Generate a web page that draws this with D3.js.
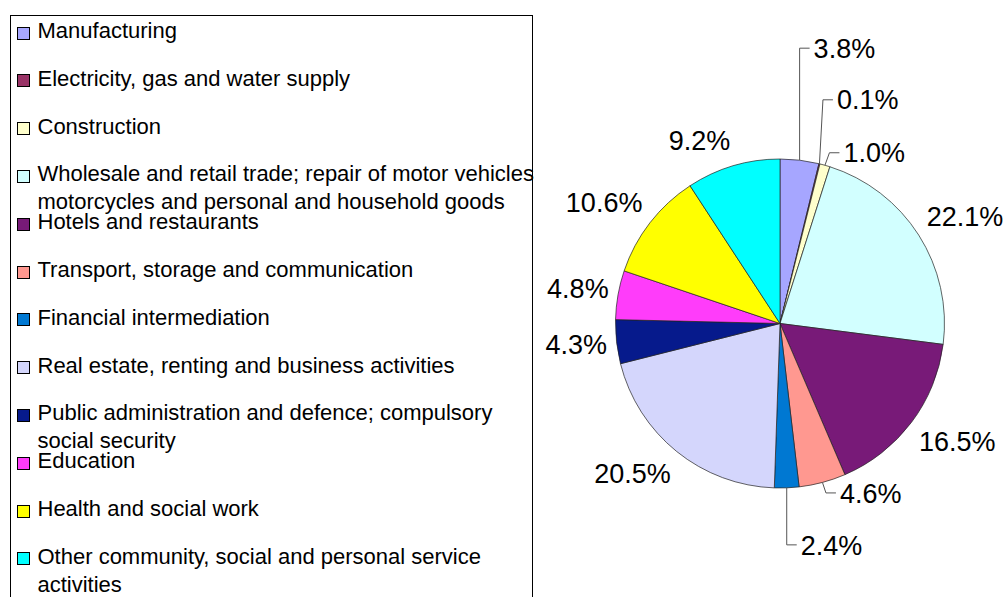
<!DOCTYPE html>
<html>
<head>
<meta charset="utf-8">
<script src="https://cdn.jsdelivr.net/npm/d3@7/dist/d3.min.js"></script>
<style>
  html, body { margin: 0; padding: 0; background: #fff; overflow: hidden; }
  svg { display: block; font-family: "Liberation Sans", Arial, sans-serif; }
</style>
</head>
<body>
<svg id="chart" width="1007" height="597"></svg>
<script>
// Sector shares of the total (%), in drawing order clockwise from 12 o'clock
const categories = [
  "Manufacturing",
  "Electricity, gas and water supply",
  "Construction",
  "Wholesale and retail trade; repair of motor vehicles motorcycles and personal and household goods",
  "Hotels and restaurants",
  "Transport, storage and communication",
  "Financial intermediation",
  "Real estate, renting and business activities",
  "Public administration and defence; compulsory social security",
  "Education",
  "Health and social work",
  "Other community, social and personal service activities"
];
const shares = [3.8, 0.1, 1.0, 22.1, 16.5, 4.6, 2.4, 20.5, 4.3, 4.8, 10.6, 9.2];
const sliceColors = [
  "#a6a6ff", "#993366", "#ffffcc", "#d2ffff", "#781a78", "#ff9890",
  "#0078d2", "#d4d6fc", "#061a8c", "#ff3cfa", "#ffff00", "#00ffff"
];

// Small slices get their label pulled out on a leader line:
// offset of the line's elbow from the slice's point on the rim
const leaderElbows = {
  "Manufacturing": [0, -112],
  "Electricity, gas and water supply": [3.5, -64],
  "Construction": [4.5, -12.5],
  "Transport, storage and communication": [3.5, 10.5],
  "Financial intermediation": [0, 57]
};

const data = categories.map((name, i) => ({ name, value: shares[i], color: sliceColors[i] }));

const svg = d3.select("#chart");
const cx = 780, cy = 323.5, radius = 164.5;

/* ---------- legend ---------- */
const legend = svg.append("g");
legend.append("rect")
  .attr("x", 10.5).attr("y", 15.5)
  .attr("width", 522).attr("height", 640)
  .attr("fill", "#fff").attr("stroke", "#000").attr("stroke-width", 1);

const legendFont = 22, legendTop = 38, legendStep = 47.8, lineStep = 28, textX = 37.5, wrapWidth = 500;

data.forEach((d, i) => {
  const base = legendTop + i * legendStep;
  legend.append("rect")
    .attr("x", 17.5).attr("y", Math.round(base - 11.5) + 0.5)
    .attr("width", 12).attr("height", 12)
    .attr("fill", d.color).attr("stroke", "#000").attr("stroke-width", 1);

  const text = legend.append("text")
    .attr("x", textX).attr("y", base)
    .attr("font-size", legendFont).attr("fill", "#000");

  // word-wrap the entry to the box width
  const words = d.name.split(" ");
  let line = [], lineNo = 0;
  let tspan = text.append("tspan").attr("x", textX).attr("y", base);
  words.forEach(w => {
    line.push(w);
    tspan.text(line.join(" "));
    if (tspan.node().getComputedTextLength() > wrapWidth && line.length > 1) {
      line.pop();
      tspan.text(line.join(" "));
      line = [w];
      lineNo++;
      tspan = text.append("tspan").attr("x", textX).attr("y", base + lineNo * lineStep).text(w);
    }
  });
});

/* ---------- pie ---------- */
const pie = d3.pie().sort(null).value(d => d.value);
const arcs = pie(data);
const arc = d3.arc().innerRadius(0).outerRadius(radius);

const g = svg.append("g").attr("transform", `translate(${cx},${cy})`);
g.selectAll("path.slice")
  .data(arcs)
  .join("path")
  .attr("class", "slice")
  .attr("d", arc)
  .attr("fill", d => d.data.color)
  .attr("stroke", "#222")
  .attr("stroke-width", 0.7)
  .attr("stroke-linejoin", "round");

/* ---------- value labels ---------- */
const fmt = d3.format(".1f");
const labelFont = 27;
const capH = labelFont * 0.716;          // cap height, for centring on leader lines
const boxH = labelFont * 1.15;           // full label box height
const baseFromCentre = labelFont * 0.33; // baseline below the box centre
const labelR = radius + 9.5;
const clamp = v => Math.max(-1, Math.min(1, v));
const labels = svg.append("g").attr("font-size", labelFont).attr("fill", "#000");

arcs.forEach(a => {
  const mid = (a.startAngle + a.endAngle) / 2;
  const s = Math.sin(mid), c = Math.cos(mid);
  const txt = fmt(a.data.value) + "%";
  const elbow = leaderElbows[a.data.name];

  if (elbow) {
    const ax = cx + radius * s, ay = cy - radius * c;
    const ex = ax + elbow[0], ey = ay + elbow[1];
    labels.append("path")
      .attr("d", d3.line()([[ax, ay], [ex, ey], [ex + 10, ey]]))
      .attr("fill", "none").attr("stroke", "#555").attr("stroke-width", 1);
    labels.append("text")
      .attr("x", ex + 14).attr("y", ey + capH / 2)
      .text(txt);
  } else {
    // label box sits just outside the rim, pushed away along the mid-angle
    const px = cx + labelR * s, py = cy - labelR * c;
    const t = labels.append("text").text(txt);
    const w = t.node().getComputedTextLength();
    const kx = clamp(s * 4), ky = clamp(c * 1.5);
    const boxCx = px + kx * w / 2, boxCy = py - ky * boxH / 2;
    t.attr("x", boxCx - w / 2)
     .attr("y", boxCy + baseFromCentre);
  }
});
</script>
</body>
</html>
